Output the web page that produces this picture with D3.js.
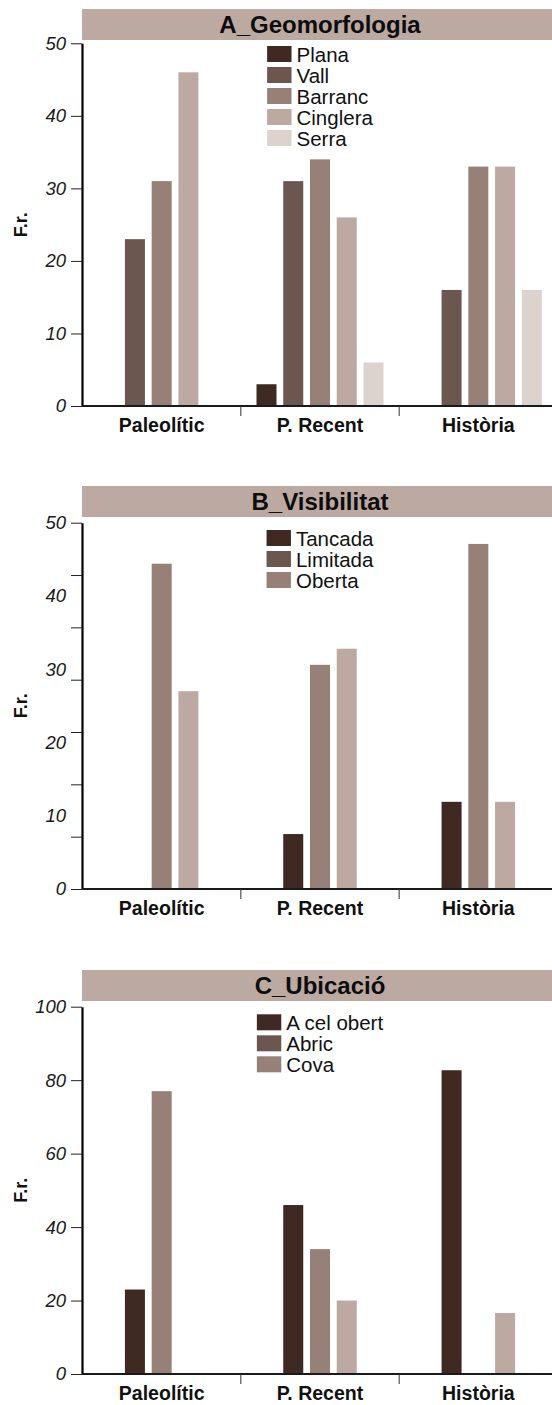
<!DOCTYPE html>
<html>
<head>
<meta charset="utf-8">
<script src="https://cdn.jsdelivr.net/npm/d3@7"></script>
<style>
  html, body { margin: 0; padding: 0; background: #ffffff; }
  svg { display: block; font-family: "Liberation Sans", Arial, Helvetica, sans-serif; }
</style>
</head>
<body>
<svg id="chart" width="552" height="1405"></svg>
<script>
// ---------- DATA ----------
const categories = ["Paleolític", "P. Recent", "Història"];

const titleA = "A_Geomorfologia";
const seriesA = ["Plana", "Vall", "Barranc", "Cinglera", "Serra"];
// rows = categories, columns = series
const valuesA = [
  [0, 23, 31, 46, 0],
  [3, 31, 34, 26, 6],
  [0, 16, 33, 33, 16]
];
const yLabelsA = [0, 10, 20, 30, 40, 50];
const yMarksA = [0, 10, 20, 30, 40, 50];

const titleB = "B_Visibilitat";
const seriesB = ["Tancada", "Limitada", "Oberta"];
const valuesB = [
  [0, 44.4, 27.0],
  [7.5, 30.6, 32.8],
  [11.9, 47.1, 11.9]
];
const yLabelsB = [0, 10, 20, 30, 40, 50];
const yMarksB = [0, 7.143, 14.286, 21.429, 28.571, 35.714, 42.857, 50];

const titleC = "C_Ubicació";
const seriesC = ["A cel obert", "Abric", "Cova"];
const valuesC = [
  [23, 77, 0],
  [46, 34, 20],
  [82.7, 0, 16.6]
];
const yLabelsC = [0, 20, 40, 60, 80, 100];
const yMarksC = [0, 20, 40, 60, 80, 100];

const yAxisTitle = "F.r.";

const palette = ["#3f2a23", "#6b5750", "#968077", "#bca9a1", "#ddd3ce"];
const barColorsA = [0, 1, 2, 3, 4];
const legendColorsA = [0, 1, 2, 3, 4];
const barColorsB = [0, 2, 3];
const legendColorsB = [0, 1, 2];
const barColorsC = [0, 2, 3];
const legendColorsC = [0, 1, 2];

// ---------- LAYOUT ----------
const W = 552;
const plotLeft = 82;
const plotRight = 557.5;
const plotCenter = 320;
const step = 26.75;

const panels = [
  { title: titleA, series: seriesA, values: valuesA, yLabels: yLabelsA, yMarks: yMarksA,
    yMax: 50, barColors: barColorsA, legendColors: legendColorsA,
    top: 9, yTop: 43.3, y0: 406, legendTop: 46 },
  { title: titleB, series: seriesB, values: valuesB, yLabels: yLabelsB, yMarks: yMarksB,
    yMax: 50, barColors: barColorsB, legendColors: legendColorsB,
    top: 486, yTop: 522.7, y0: 889, legendTop: 530 },
  { title: titleC, series: seriesC, values: valuesC, yLabels: yLabelsC, yMarks: yMarksC,
    yMax: 100, barColors: barColorsC, legendColors: legendColorsC,
    top: 970, yTop: 1006.7, y0: 1374, legendTop: 1014.3 }
];

const svg = d3.select("#chart");

function drawPanel(p) {
  const g = svg.append("g");
  const x = d3.scaleBand().domain(categories).range([plotLeft + 0.5, plotRight]);
  const y = d3.scaleLinear().domain([0, p.yMax]).range([p.y0, p.yTop]);
  const n = p.series.length;
  const xi = d3.scaleBand().domain(p.series)
    .range([-n * step / 2, n * step / 2])
    .paddingInner(0.252).paddingOuter(0.126);

  // title bar
  g.append("rect")
    .attr("x", plotLeft).attr("y", p.top)
    .attr("width", W - plotLeft + 5).attr("height", 31)
    .attr("fill", "#bca9a1");
  g.append("text")
    .attr("x", plotCenter).attr("y", p.top + 23.5)
    .attr("text-anchor", "middle")
    .attr("font-weight", "bold").attr("font-size", "24px")
    .attr("fill", "#0d0d0d")
    .text(p.title);

  // bars
  const rows = [];
  categories.forEach((c, ci) => {
    p.series.forEach((s, si) => {
      rows.push({ c, s, si, v: p.values[ci][si] });
    });
  });
  g.append("g").selectAll("rect").data(rows).join("rect")
    .attr("x", d => x(d.c) + x.bandwidth() / 2 + xi(d.s))
    .attr("y", d => y(d.v))
    .attr("width", xi.bandwidth())
    .attr("height", d => y(0) - y(d.v))
    .attr("fill", d => palette[p.barColors[d.si]]);

  // y axis: tick marks
  const yMarkAxis = d3.axisLeft(y).tickValues(p.yMarks).tickSize(11).tickSizeOuter(0).tickFormat("");
  const gm = g.append("g").attr("transform", `translate(${plotLeft},0)`).call(yMarkAxis);
  gm.select(".domain").attr("stroke", "#000").attr("stroke-width", 2.2);
  gm.selectAll(".tick line").attr("stroke", "#222").attr("stroke-width", 1);

  // y axis: labels
  const yLabelAxis = d3.axisLeft(y).tickValues(p.yLabels).tickSize(0).tickPadding(16).tickFormat(d3.format("d"));
  const gl = g.append("g").attr("transform", `translate(${plotLeft},0)`).call(yLabelAxis);
  gl.select(".domain").remove();
  gl.selectAll("text")
    .attr("font-family", "'Liberation Sans', Arial, sans-serif")
    .attr("font-style", "italic").attr("font-size", "18.5px").attr("fill", "#1a1a1a");

  // x axis line
  g.append("line")
    .attr("x1", plotLeft).attr("x2", W + 5)
    .attr("y1", p.y0).attr("y2", p.y0)
    .attr("stroke", "#1a1a1a").attr("stroke-width", 2.2);

  // separators between categories
  g.append("g").selectAll("line").data(categories.slice(1)).join("line")
    .attr("x1", d => x(d)).attr("x2", d => x(d))
    .attr("y1", p.y0).attr("y2", p.y0 + 10)
    .attr("stroke", "#333").attr("stroke-width", 1);

  // x labels
  const xAxis = d3.axisBottom(x).tickSize(0).tickSizeOuter(0);
  const gx = g.append("g").attr("transform", `translate(0,${p.y0})`).call(xAxis);
  gx.select(".domain").remove();
  gx.selectAll("text")
    .attr("dy", null).attr("y", 26.3)
    .attr("font-family", "'Liberation Sans', Arial, sans-serif")
    .attr("font-weight", "bold").attr("font-size", "19.5px").attr("fill", "#111");

  // y axis title
  g.append("text")
    .attr("transform", `translate(27.3,${(p.yTop + p.y0) / 2}) rotate(-90)`)
    .attr("text-anchor", "middle")
    .attr("font-weight", "bold").attr("font-size", "18px").attr("fill", "#111")
    .text(yAxisTitle);

  // legend
  const lg = g.append("g");
  const items = lg.selectAll("g").data(p.series).join("g")
    .attr("transform", (d, i) => `translate(0,${p.legendTop + i * 21})`);
  items.append("rect")
    .attr("x", 0).attr("y", 0).attr("width", 24.4).attr("height", 16)
    .attr("fill", (d, i) => palette[p.legendColors[i]]);
  items.append("text")
    .attr("x", 29.4).attr("y", 16)
    .attr("font-size", "20.5px").attr("fill", "#111")
    .text(d => d);
  let maxW = 0;
  items.selectAll("text").each(function () { maxW = Math.max(maxW, this.getComputedTextLength()); });
  const blockW = 29.4 + maxW;
  lg.attr("transform", `translate(${plotCenter - blockW / 2},0)`);
}

panels.forEach(drawPanel);
</script>
</body>
</html>
